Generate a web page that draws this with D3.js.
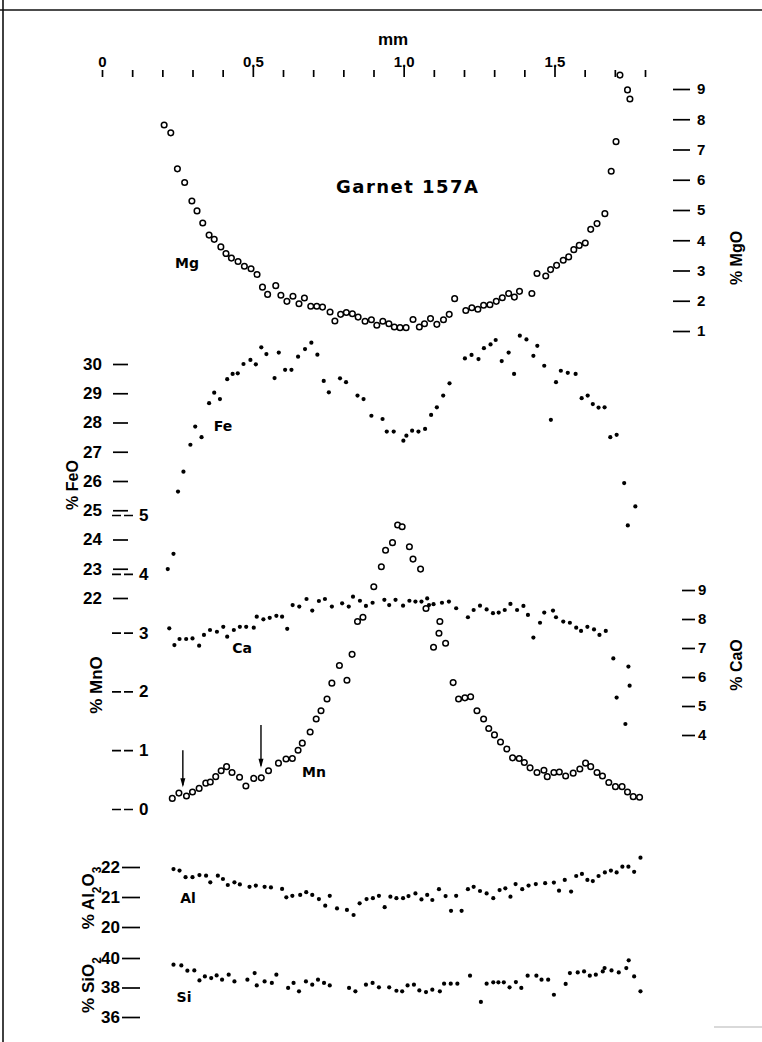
<!DOCTYPE html>
<html><head><meta charset="utf-8">
<script src="https://cdn.jsdelivr.net/npm/d3@7"></script>
<style>body{margin:0;background:#fff}svg{display:block}</style>
</head><body><svg id="c" width="762" height="1042"></svg>
<script>
// ---------- tick labels ----------
const mmTicks = d3.range(19).map(i => i / 10);
const mmLabels = ["0", "", "", "", "", "0.5", "", "", "", "", "1.0", "", "", "", "", "1.5", "", "", ""];
const mgoTicks = [1, 2, 3, 4, 5, 6, 7, 8, 9];
const feoTicks = [22, 23, 24, 25, 26, 27, 28, 29, 30];
const mnoTicks = [0, 1, 2, 3, 4, 5];
const caoTicks = [4, 5, 6, 7, 8, 9];
const alTicks = [20, 21, 22];
const siTicks = [36, 38, 40];

// ---------- series: [distance mm, wt %] ----------
const mgData = [[0.206,7.81],[0.228,7.55],[0.250,6.36],[0.274,5.91],[0.298,5.30],[0.315,4.97],[0.334,4.57],[0.355,4.17],[0.372,4.03],[0.394,3.78],[0.411,3.56],[0.429,3.41],[0.451,3.30],[0.472,3.14],[0.494,3.06],[0.514,2.87],[0.532,2.45],[0.549,2.21],[0.576,2.50],[0.593,2.18],[0.613,1.98],[0.633,2.15],[0.653,1.90],[0.671,2.09],[0.692,1.82],[0.712,1.82],[0.731,1.79],[0.756,1.63],[0.772,1.33],[0.791,1.55],[0.810,1.61],[0.830,1.57],[0.849,1.46],[0.872,1.32],[0.893,1.37],[0.911,1.19],[0.931,1.32],[0.951,1.24],[0.969,1.13],[0.988,1.11],[1.008,1.11],[1.031,1.38],[1.052,1.13],[1.069,1.24],[1.089,1.41],[1.110,1.22],[1.132,1.37],[1.151,1.55],[1.169,2.07],[1.206,1.68],[1.226,1.77],[1.246,1.72],[1.265,1.85],[1.286,1.87],[1.307,1.98],[1.327,2.10],[1.348,2.24],[1.367,2.12],[1.384,2.31],[1.425,2.24],[1.442,2.90],[1.471,2.82],[1.487,3.03],[1.507,3.17],[1.529,3.34],[1.547,3.45],[1.564,3.69],[1.582,3.83],[1.602,3.91],[1.620,4.36],[1.641,4.55],[1.667,4.88],[1.688,6.28],[1.704,7.26],[1.717,9.46],[1.742,8.97],[1.750,8.67]];

const feData = [[0.218,22.99],[0.237,23.51],[0.252,25.64],[0.270,26.32],[0.293,27.24],[0.309,27.86],[0.330,27.50],[0.355,28.66],[0.372,29.02],[0.391,28.80],[0.415,29.48],[0.433,29.66],[0.450,29.68],[0.469,30.00],[0.492,30.14],[0.510,29.99],[0.528,30.57],[0.545,30.34],[0.572,29.52],[0.586,30.39],[0.607,29.80],[0.628,29.80],[0.650,30.25],[0.673,30.51],[0.694,30.73],[0.714,30.32],[0.735,29.42],[0.752,29.03],[0.789,29.51],[0.809,29.38],[0.847,28.92],[0.867,28.80],[0.893,28.23],[0.930,28.12],[0.944,27.69],[0.967,27.69],[0.999,27.38],[1.009,27.55],[1.028,27.72],[1.049,27.69],[1.071,27.78],[1.091,28.26],[1.110,28.52],[1.131,28.92],[1.152,29.34],[1.203,30.19],[1.225,30.31],[1.248,30.17],[1.266,30.54],[1.288,30.67],[1.305,30.82],[1.325,30.10],[1.348,30.39],[1.366,29.66],[1.385,30.97],[1.407,30.84],[1.430,30.28],[1.443,30.62],[1.466,29.94],[1.488,28.09],[1.505,29.38],[1.521,29.77],[1.544,29.70],[1.570,29.66],[1.590,28.83],[1.610,28.92],[1.627,28.63],[1.646,28.51],[1.666,28.52],[1.685,27.50],[1.706,27.58],[1.731,25.93],[1.743,24.48],[1.768,25.13]];

const caData = [[0.223,7.68],[0.240,7.10],[0.257,7.31],[0.279,7.31],[0.300,7.33],[0.322,7.08],[0.338,7.45],[0.358,7.62],[0.381,7.56],[0.402,7.73],[0.415,7.39],[0.437,7.62],[0.457,7.73],[0.478,7.73],[0.503,7.70],[0.513,8.08],[0.535,7.99],[0.556,8.04],[0.578,8.11],[0.597,8.08],[0.614,7.66],[0.632,8.48],[0.654,8.43],[0.678,8.69],[0.697,8.29],[0.719,8.62],[0.739,8.69],[0.762,8.43],[0.796,8.54],[0.818,8.43],[0.832,8.77],[0.855,8.63],[0.875,8.45],[0.897,8.56],[0.936,8.66],[0.952,8.48],[0.973,8.66],[0.998,8.46],[1.019,8.63],[1.039,8.60],[1.059,8.60],[1.078,8.71],[1.084,8.48],[1.099,8.51],[1.127,8.56],[1.150,8.60],[1.174,8.37],[1.213,8.06],[1.232,8.31],[1.253,8.46],[1.275,8.33],[1.296,8.20],[1.315,8.22],[1.335,8.31],[1.354,8.52],[1.376,8.31],[1.397,8.45],[1.412,8.14],[1.430,7.36],[1.452,7.87],[1.466,8.22],[1.495,8.29],[1.505,8.06],[1.529,7.91],[1.551,7.87],[1.572,7.70],[1.588,7.59],[1.609,7.73],[1.631,7.64],[1.649,7.45],[1.670,7.59],[1.695,6.64],[1.706,5.29],[1.735,4.38],[1.745,6.36],[1.749,5.70]];

const mnData = [[0.233,0.18],[0.255,0.27],[0.280,0.22],[0.300,0.29],[0.322,0.35],[0.344,0.44],[0.359,0.46],[0.377,0.55],[0.395,0.65],[0.413,0.72],[0.431,0.62],[0.456,0.54],[0.477,0.39],[0.503,0.52],[0.528,0.53],[0.552,0.65],[0.585,0.78],[0.610,0.85],[0.631,0.86],[0.650,1.00],[0.664,1.12],[0.690,1.31],[0.710,1.53],[0.726,1.67],[0.746,1.87],[0.762,2.14],[0.787,2.44],[0.812,2.19],[0.829,2.63],[0.847,3.19],[0.865,3.26],[0.901,3.78],[0.926,4.12],[0.940,4.40],[0.963,4.53],[0.980,4.83],[0.995,4.80],[1.019,4.46],[1.031,4.25],[1.056,4.08],[1.074,3.41],[1.099,2.75],[1.117,2.99],[1.120,3.19],[1.139,2.82],[1.164,2.15],[1.182,1.87],[1.203,1.89],[1.222,1.91],[1.243,1.67],[1.265,1.53],[1.282,1.37],[1.301,1.26],[1.321,1.14],[1.342,1.02],[1.361,0.87],[1.383,0.86],[1.400,0.79],[1.419,0.70],[1.442,0.62],[1.465,0.66],[1.476,0.55],[1.498,0.62],[1.516,0.63],[1.537,0.56],[1.562,0.61],[1.584,0.68],[1.603,0.78],[1.620,0.72],[1.641,0.62],[1.659,0.56],[1.680,0.45],[1.702,0.38],[1.724,0.38],[1.742,0.29],[1.761,0.21],[1.782,0.20]];

const alData = [[0.237,21.93],[0.257,21.88],[0.277,21.66],[0.300,21.66],[0.323,21.73],[0.345,21.71],[0.359,21.49],[0.384,21.71],[0.401,21.60],[0.417,21.40],[0.439,21.49],[0.457,21.42],[0.489,21.34],[0.510,21.38],[0.539,21.34],[0.560,21.32],[0.597,21.27],[0.611,20.99],[0.631,21.04],[0.657,21.07],[0.677,21.16],[0.697,21.07],[0.719,20.93],[0.740,20.71],[0.755,21.04],[0.779,20.62],[0.812,20.57],[0.834,20.40],[0.854,20.79],[0.877,20.93],[0.898,20.96],[0.918,21.04],[0.937,20.66],[0.956,21.01],[0.976,20.96],[0.998,20.96],[1.016,21.03],[1.039,21.12],[1.059,20.92],[1.078,21.07],[1.095,20.90],[1.117,21.26],[1.139,21.03],[1.157,20.54],[1.174,21.04],[1.192,20.54],[1.213,21.26],[1.232,21.34],[1.253,21.20],[1.275,21.12],[1.297,20.96],[1.318,21.23],[1.337,21.29],[1.354,21.01],[1.371,21.43],[1.393,21.26],[1.414,21.38],[1.438,21.43],[1.469,21.46],[1.498,21.48],[1.515,21.21],[1.534,21.57],[1.555,21.18],[1.572,21.70],[1.591,21.77],[1.609,21.57],[1.627,21.53],[1.646,21.70],[1.667,21.82],[1.687,21.88],[1.706,21.82],[1.725,22.01],[1.745,22.01],[1.764,21.84],[1.785,22.31]];

const siData = [[0.237,39.55],[0.263,39.50],[0.283,39.14],[0.306,39.16],[0.323,38.48],[0.341,38.75],[0.362,38.64],[0.380,38.82],[0.398,38.53],[0.420,38.87],[0.439,38.41],[0.482,38.53],[0.506,38.98],[0.513,38.14],[0.539,38.41],[0.563,38.31],[0.578,38.87],[0.617,37.97],[0.635,38.31],[0.653,37.74],[0.676,38.41],[0.697,38.19],[0.716,38.53],[0.736,38.31],[0.755,38.14],[0.819,37.97],[0.840,37.74],[0.875,38.19],[0.897,38.31],[0.918,38.01],[0.952,38.01],[0.976,37.78],[0.995,37.74],[1.013,38.14],[1.034,38.19],[1.052,37.80],[1.074,37.69],[1.095,37.85],[1.120,37.74],[1.134,38.26],[1.156,38.26],[1.178,38.26],[1.220,38.80],[1.256,37.02],[1.275,38.26],[1.297,38.35],[1.314,38.35],[1.332,38.35],[1.351,38.01],[1.372,38.37],[1.390,37.97],[1.411,38.80],[1.440,38.80],[1.457,38.53],[1.479,38.53],[1.498,37.51],[1.537,38.24],[1.551,38.98],[1.577,39.02],[1.598,39.09],[1.617,38.80],[1.637,38.87],[1.660,39.09],[1.666,39.32],[1.689,39.16],[1.713,39.02],[1.738,39.32],[1.746,39.84],[1.764,38.75],[1.785,37.74]];

// arrows on the Mn profile: [mm, MnO top, MnO tip]
const mnArrows = [[0.268, 1.00, 0.37], [0.527, 1.43, 0.70]];

// ---------- drawing ----------
const FONT = "'Liberation Sans', Arial, sans-serif";
const svg = d3.select("#c");
svg.append("rect").attr("width", 762).attr("height", 1042).attr("fill", "#fff");

// frame remnants of the scanned page
svg.append("line").attr("x1", 0).attr("x2", 762).attr("y1", 10).attr("y2", 10).attr("stroke", "#111").attr("stroke-width", 1.6);
svg.append("line").attr("x1", 3).attr("x2", 3).attr("y1", 0).attr("y2", 1042).attr("stroke", "#111").attr("stroke-width", 1.6);
svg.append("line").attr("x1", 714).attr("x2", 762).attr("y1", 1027).attr("y2", 1027).attr("stroke", "#ccc").attr("stroke-width", 1.5);

const x = d3.scaleLinear().domain([0, 1.8]).range([102, 645]);
const yMg = d3.scaleLinear().domain([1, 9]).range([331, 89]);
const yFe = d3.scaleLinear().domain([22, 30]).range([598, 364]);
const yMn = d3.scaleLinear().domain([0, 5]).range([809, 515]);
const yCa = d3.scaleLinear().domain([4, 9]).range([735, 590]);
const yAl = d3.scaleLinear().domain([20, 22]).range([927, 867]);
const ySi = d3.scaleLinear().domain([36, 40]).range([1017, 958]);

function styleAxis(g, size) {
  g.select(".domain").remove();
  g.selectAll("line").attr("stroke", "#000").attr("stroke-width", 1.7);
  g.selectAll("text").attr("font-family", FONT).attr("font-weight", "bold")
    .attr("font-size", size).attr("fill", "#000");
}

// top mm axis
const gTop = svg.append("g").attr("transform", "translate(0,77)")
  .call(d3.axisTop(x).tickValues(mmTicks).tickSize(7).tickPadding(4).tickFormat((d, i) => mmLabels[i]));
styleAxis(gTop, 15);
gTop.selectAll(".tick line").attr("y2", (d, i) => (i % 5 === 0 && i > 0) ? -11 : -7);
gTop.selectAll(".tick text").attr("y", -10);
svg.append("text").attr("x", 393).attr("y", 45).attr("text-anchor", "middle")
  .attr("font-family", FONT).attr("font-weight", "bold").attr("font-size", 17).text("mm");

// right MgO axis
const gMg = svg.append("g").attr("transform", "translate(673,0)")
  .call(d3.axisRight(yMg).tickValues(mgoTicks).tickSize(17).tickPadding(7).tickFormat(d3.format("d")));
styleAxis(gMg, 15);

// left FeO axis
const gFe = svg.append("g").attr("transform", "translate(128,0)")
  .call(d3.axisLeft(yFe).tickValues(feoTicks).tickSize(15).tickPadding(11).tickFormat(d3.format("d")));
styleAxis(gFe, 17);

// MnO axis (dashed ticks, labels right of ticks)
const gMn = svg.append("g").attr("transform", "translate(112,0)")
  .call(d3.axisRight(yMn).tickValues(mnoTicks).tickSize(22).tickPadding(5).tickFormat(d3.format("d")));
styleAxis(gMn, 17);
gMn.selectAll(".tick line").attr("stroke-dasharray", "9,3");

// right CaO axis
const gCa = svg.append("g").attr("transform", "translate(682,0)")
  .call(d3.axisRight(yCa).tickValues(caoTicks).tickSize(13).tickPadding(3).tickFormat(d3.format("d")));
styleAxis(gCa, 15);

// Al2O3 and SiO2 axes
const gAl = svg.append("g").attr("transform", "translate(140,0)")
  .call(d3.axisLeft(yAl).tickValues(alTicks).tickSize(18).tickPadding(2).tickFormat(d3.format("d")));
styleAxis(gAl, 17);
const gSi = svg.append("g").attr("transform", "translate(140,0)")
  .call(d3.axisLeft(ySi).tickValues(siTicks).tickSize(18).tickPadding(2).tickFormat(d3.format("d")));
styleAxis(gSi, 17);

// rotated axis titles
function vTitle(cx, cy, size, parts) {
  const t = svg.append("text").attr("transform", `translate(${cx},${cy}) rotate(-90)`)
    .attr("text-anchor", "middle").attr("dy", "0.35em")
    .attr("font-family", FONT).attr("font-weight", "bold").attr("font-size", size).attr("fill", "#000");
  parts.forEach(p => {
    const s = t.append("tspan").text(p[0]);
    if (p[1]) s.attr("baseline-shift", "sub").attr("font-size", size * 0.7);
  });
}
vTitle(72, 485, 16, [["% FeO"]]);
vTitle(96, 685, 17, [["% MnO"]]);
vTitle(88, 898, 17, [["% Al"], ["2", 1], ["O"], ["3", 1]]);
vTitle(88, 985, 17, [["% SiO"], ["2", 1]]);
vTitle(736, 258, 16, [["% MgO"]]);
vTitle(736, 665, 16, [["% CaO"]]);

// title
svg.append("text").attr("x", 336).attr("y", 193).attr("textLength", 142).attr("lengthAdjust", "spacing")
  .attr("font-family", "'DejaVu Sans', sans-serif").attr("font-weight", "bold").attr("font-size", 18)
  .text("Garnet 157A");

// series labels
const seriesLabels = [["Mg", 187, 263], ["Fe", 223, 426], ["Ca", 242, 648], ["Mn", 314, 772], ["Al", 188, 898], ["Si", 184, 997]];
svg.selectAll("text.sl").data(seriesLabels).join("text").attr("class", "sl")
  .attr("x", d => d[1]).attr("y", d => d[2]).attr("dy", "0.35em").attr("text-anchor", "middle")
  .attr("font-family", "'DejaVu Sans', sans-serif").attr("font-weight", "bold").attr("font-size", 14)
  .text(d => d[0]);

// marks
function dots(data, y) {
  svg.append("g").selectAll("circle").data(data).join("circle")
    .attr("cx", d => x(d[0])).attr("cy", d => y(d[1])).attr("r", 2.1).attr("fill", "#000");
}
function rings(data, y) {
  svg.append("g").selectAll("circle").data(data).join("circle")
    .attr("cx", d => x(d[0])).attr("cy", d => y(d[1])).attr("r", 2.8)
    .attr("fill", "#fff").attr("stroke", "#000").attr("stroke-width", 1.5);
}
dots(feData, yFe);
dots(caData, yCa);
dots(alData, yAl);
dots(siData, ySi);
rings(mgData, yMg);
rings(mnData, yMn);

// arrows
const ag = svg.append("g");
mnArrows.forEach(a => {
  const ax = x(a[0]), y0 = yMn(a[1]), y1 = yMn(a[2]);
  ag.append("line").attr("x1", ax).attr("x2", ax).attr("y1", y0).attr("y2", y1 - 2)
    .attr("stroke", "#000").attr("stroke-width", 1.4);
  ag.append("path").attr("d", `M${ax - 2.5},${y1 - 9} L${ax},${y1} L${ax + 2.5},${y1 - 9} Z`).attr("fill", "#000");
});
</script></body></html>
